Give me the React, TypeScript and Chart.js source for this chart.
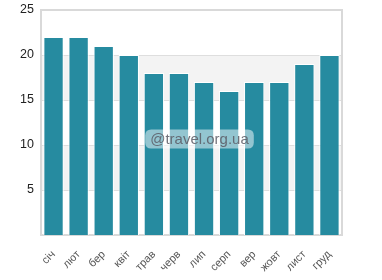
import React, { useEffect, useRef } from "react";
import { Chart, registerables } from "chart.js";

Chart.register(...registerables);

const months = ["січ", "лют", "бер", "квіт", "трав", "черв", "лип", "серп", "вер", "жовт", "лист", "груд"];
const temps = [22, 22, 21, 20, 18, 18, 17, 16, 17, 17, 19, 20];
const yTicks = [5, 10, 15, 20, 25];
const watermark = "@travel.org.ua";

const bandsPlugin = {
  id: "bands",
  beforeDatasetsDraw(chart: any) {
    const { ctx, chartArea, scales } = chart;
    const y = scales.y;
    ctx.save();
    ctx.fillStyle = "#f3f3f3";
    const bounds = [0, ...yTicks];
    for (let i = 0; i < bounds.length - 1; i++) {
      if (i % 2 === 1) {
        const top = y.getPixelForValue(bounds[i + 1]);
        const bot = y.getPixelForValue(bounds[i]);
        ctx.fillRect(chartArea.left, top, chartArea.right - chartArea.left, bot - top);
      }
    }
    ctx.strokeStyle = "#dedede";
    ctx.lineWidth = 1;
    for (const t of yTicks) {
      const py = Math.round(y.getPixelForValue(t)) + 0.5;
      ctx.beginPath();
      ctx.moveTo(chartArea.left, py);
      ctx.lineTo(chartArea.right, py);
      ctx.stroke();
    }
    ctx.strokeStyle = "#d9d9d9";
    ctx.lineWidth = 2;
    ctx.strokeRect(chartArea.left, chartArea.top, chartArea.right - chartArea.left, chartArea.bottom - chartArea.top);
    ctx.restore();
  },
  afterDraw(chart: any) {
    const { ctx, chartArea } = chart;
    const cx = (chartArea.left + chartArea.right) / 2 + 8;
    const cy = 139;
    ctx.save();
    ctx.font = "15px 'Liberation Sans', Arial, sans-serif";
    const w = ctx.measureText(watermark).width + 10;
    const h = 19;
    ctx.fillStyle = "rgba(255,255,255,0.5)";
    const x0 = cx - w / 2;
    const y0 = cy - h / 2;
    const r = 6;
    ctx.beginPath();
    ctx.moveTo(x0 + r, y0);
    ctx.lineTo(x0 + w - r, y0);
    ctx.quadraticCurveTo(x0 + w, y0, x0 + w, y0 + r);
    ctx.lineTo(x0 + w, y0 + h - r);
    ctx.quadraticCurveTo(x0 + w, y0 + h, x0 + w - r, y0 + h);
    ctx.lineTo(x0 + r, y0 + h);
    ctx.quadraticCurveTo(x0, y0 + h, x0, y0 + h - r);
    ctx.lineTo(x0, y0 + r);
    ctx.quadraticCurveTo(x0, y0, x0 + r, y0);
    ctx.fill();
    ctx.fillStyle = "rgba(90,90,100,0.85)";
    ctx.textAlign = "center";
    ctx.textBaseline = "middle";
    ctx.fillText(watermark, cx, cy + 1);
    ctx.restore();
  },
};

export default function App() {
  const ref = useRef<HTMLCanvasElement>(null);
  useEffect(() => {
    document.body.style.margin = "0";
    const chart = new Chart(ref.current!, {
      type: "bar",
      data: {
        labels: months,
        datasets: [
          {
            data: temps,
            backgroundColor: "#268ba0",
            borderColor: "#ffffff",
            borderWidth: 1,
            categoryPercentage: 0.9,
            barPercentage: 0.9,
          },
        ],
      },
      options: {
        animation: false,
        responsive: false,
        layout: { padding: { top: 10, right: 40, left: 0, bottom: 0 } },
        plugins: { legend: { display: false }, tooltip: { enabled: false } },
        scales: {
          x: {
            grid: { display: false, drawTicks: false },
            border: { display: false },
            ticks: {
              maxRotation: 45,
              minRotation: 45,
              color: "#555",
              padding: 13,
              font: { family: "'Liberation Sans', Arial, sans-serif", size: 11 },
            },
            afterFit: (s: any) => {
              s.height = 45;
              s.paddingLeft = 0;
              s.paddingRight = 0;
            },
          },
          y: {
            min: 0,
            max: 25,
            grid: { display: false, drawTicks: false },
            border: { display: false },
            afterBuildTicks: (s: any) => {
              s.ticks = yTicks.map((v) => ({ value: v }));
            },
            ticks: {
              color: "#222",
              padding: 7,
              font: { family: "'Liberation Sans', Arial, sans-serif", size: 12.5 },
            },
            afterFit: (s: any) => {
              s.width = 41;
              s.paddingTop = 0;
              s.paddingBottom = 0;
            },
          },
        },
      },
      plugins: [bandsPlugin],
    });
    return () => chart.destroy();
  }, []);
  return (
    <div style={{ position: "absolute", left: 0, top: 0, width: 382, height: 280 }}>
      <canvas ref={ref} width={382} height={280} style={{ width: 382, height: 280 }} />
    </div>
  );
}
